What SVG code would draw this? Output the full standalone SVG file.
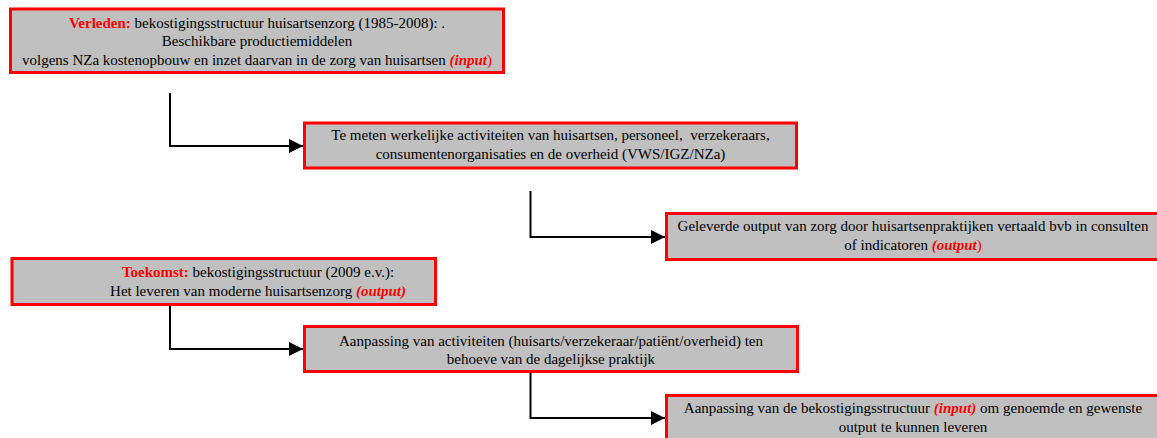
<svg xmlns="http://www.w3.org/2000/svg" width="1157" height="438" viewBox="0 0 1157 438">
<style>
.box{fill:#c0c0c0;stroke:#ff0000;stroke-width:3}
.t{font-family:"Liberation Serif","Times New Roman",serif;font-size:15px;fill:#000;text-anchor:middle}
.r{fill:#ff0000;font-weight:bold}
.ri{fill:#ff0000;font-weight:bold;font-style:italic}
.rn{fill:#ff0000}
.c{fill:none;stroke:#000;stroke-width:2;marker-end:url(#ah)}
</style>
<defs>
<marker id="ah" markerUnits="userSpaceOnUse" markerWidth="14" markerHeight="14" refX="14" refY="7" orient="auto">
<path d="M0,0 L14,7 L0,14 z" fill="#000"/>
</marker>
</defs>
<rect width="1157" height="438" fill="#fff"/>
<g id="connectors">
<path class="c" d="M170,93 V146 H303"/>
<path class="c" d="M530.5,191 V237 H665"/>
<path class="c" d="M170,306 V349 H303"/>
<path class="c" d="M530.5,373 V418 H665"/>
</g>
<g id="verleden">
<rect class="box" x="10.5" y="9" width="493" height="63.5"/>
<text class="t" x="257" y="28"><tspan class="r">Verleden:</tspan> bekostigingsstructuur huisartsenzorg (1985-2008): .</text>
<text class="t" x="257" y="46">Beschikbare productiemiddelen</text>
<text class="t" x="257" y="65">volgens NZa kostenopbouw en inzet daarvan in de zorg van huisartsen <tspan class="ri">(input</tspan><tspan class="rn">)</tspan></text>
</g>
<g id="activiteiten">
<rect class="box" x="304.5" y="123" width="492" height="45"/>
<text class="t" x="550.5" y="140">Te meten werkelijke activiteiten van huisartsen, personeel, &#160;verzekeraars,</text>
<text class="t" x="550.5" y="159">consumentenorganisaties en de overheid (VWS/IGZ/NZa)</text>
</g>
<g id="output">
<rect class="box" x="666.5" y="213.5" width="495" height="46"/>
<text class="t" x="913" y="231">Geleverde output van zorg door huisartsenpraktijken vertaald bvb in consulten</text>
<text class="t" x="913" y="250">of indicatoren <tspan class="ri">(output</tspan><tspan class="rn">)</tspan></text>
</g>
<g id="toekomst">
<rect class="box" x="12" y="258.5" width="423.5" height="46"/>
<text class="t" x="258" y="277"><tspan class="r">Toekomst:</tspan> bekostigingsstructuur (2009 e.v.):</text>
<text class="t" x="258" y="296">Het leveren van moderne huisartsenzorg <tspan class="ri">(output)</tspan></text>
</g>
<g id="aanpassing-activiteiten">
<rect class="box" x="304.5" y="326.5" width="493" height="45"/>
<text class="t" x="551" y="346">Aanpassing van activiteiten (huisarts/verzekeraar/patiënt/overheid) ten</text>
<text class="t" x="551" y="364">behoeve van de dagelijkse praktijk</text>
</g>
<g id="aanpassing-bekostiging">
<rect class="box" x="666.5" y="395.5" width="495" height="46"/>
<text class="t" x="913" y="413">Aanpassing van de bekostigingsstructuur <tspan class="ri">(input)</tspan> om genoemde en gewenste</text>
<text class="t" x="913" y="432">output te kunnen leveren</text>
</g>
</svg>
